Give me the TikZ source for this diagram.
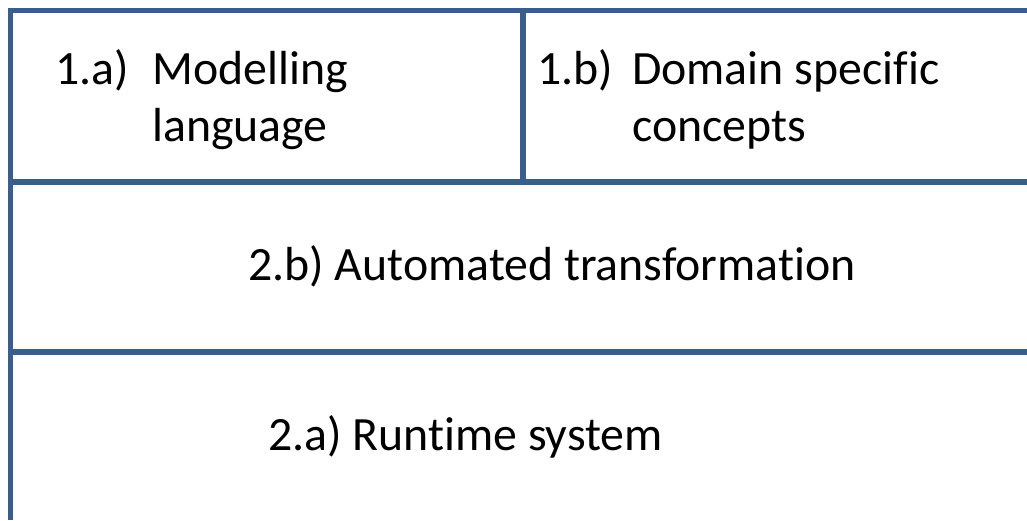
\documentclass[tikz,border=0pt]{standalone}
\usepackage{fontspec}
\setmainfont{Carlito}[Ligatures={NoCommon}]
\definecolor{frameblue}{RGB}{57,94,140}
\begin{document}
\begin{tikzpicture}[x=1pt,y=-1pt,
  frame/.style={draw=frameblue,line width=5.5pt},
  label/.style={anchor=base west,inner sep=0pt,font=\fontsize{47.8}{57}\selectfont}]
\useasboundingbox (0,0) rectangle (1027,520);
% outer frame (open on the right and at the bottom)
\draw[frame,line join=miter] (1027,10.5) -- (10.5,10.5) -- (10.5,520);
% row separators
\draw[frame] (10.5,182) -- (1027,182);
\draw[frame] (10.5,352) -- (1027,352);
% divider between the two top cells
\draw[frame] (523,10.5) -- (523,182);
% top-left cell
\node[label] (na) at (55,84) {1.a)};
\node[label] (ta1) at (152,84) {Modelling};
\node[label] (ta2) at (152,141) {language};
% top-right cell
\node[label] (nb) at (537,84) {1.b)};
\node[label] (tb1) at (632,84) {Domain specific};
\node[label] (tb2) at (632,141) {concepts};
% middle row
\node[label] (mid) at (248,280) {2.b) Automated transformation};
% bottom row
\node[label] (bot) at (268,450) {2.a) Runtime system};
\end{tikzpicture}
\end{document}
